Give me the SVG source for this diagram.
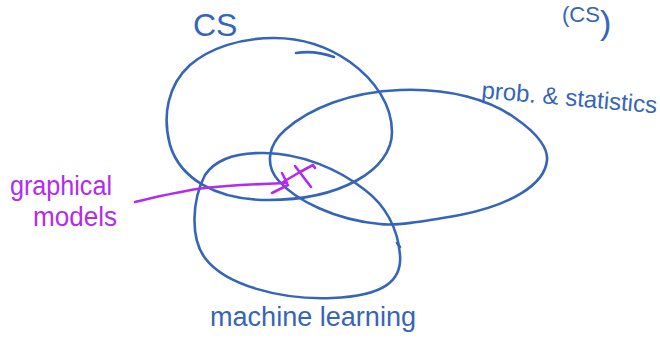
<svg xmlns="http://www.w3.org/2000/svg" width="660" height="352" viewBox="0 0 660 352">
<style>
.b{fill:none;stroke:#3565b9;stroke-width:2.6;stroke-linecap:round;stroke-linejoin:round}
.p{fill:none;stroke:#b22cf0;stroke-width:2.6;stroke-linecap:round;stroke-linejoin:round}
.tb{fill:#3565b9;font-family:"Liberation Sans",Arial,sans-serif}
.tp{fill:#b22cf0;font-family:"Liberation Sans",Arial,sans-serif}
</style>
<rect width="660" height="352" fill="#ffffff"/>
<g id="cs">
<path class="b" d="M 274,38 C 305,38 330,48 350,62 C 375,80 392,105 392,132 C 392,170 340,200 268,200 C 215,200 180,178 170,145 C 162,115 168,85 190,65 C 210,48 240,38 274,38 Z"/>
<path class="b" d="M 296,53 C 308,51 320,52 334,57"/>
<text class="tb" x="193" y="36" font-size="32">CS</text>
</g>
<g id="cs-corner">
<text class="tb" x="562" y="22" font-size="22">(CS<tspan font-size="34" dy="12">)</tspan></text>
</g>
<g id="prob-stats">
<path class="b" d="M 400,90 C 450,88 490,100 515,118 C 540,135 548,150 547,160 C 545,185 510,205 460,215 C 420,222 395,226 380,224 C 335,220 295,200 278,180 C 265,165 268,145 285,130 C 310,108 350,92 400,90 Z"/>
<text class="tb" x="481" y="98" font-size="24" textLength="176" lengthAdjust="spacingAndGlyphs" transform="rotate(5 481 98)">prob. &amp; statistics</text>
</g>
<g id="ml">
<path class="b" d="M 261,153 C 300,152 340,170 365,190 C 385,205 398,228 400,255 C 402,280 385,296 332,298 C 280,300 225,285 205,258 C 190,238 192,200 205,175 C 215,160 235,153 261,153 Z"/>
<path class="b" d="M 397,243 L 400,247"/>
<text class="tb" x="210" y="326" font-size="27" textLength="206" lengthAdjust="spacingAndGlyphs">machine learning</text>
</g>
<g id="graphical-models">
<text class="tp" x="10" y="195" font-size="27" textLength="102" lengthAdjust="spacingAndGlyphs">graphical</text>
<text class="tp" x="33" y="226" font-size="27" textLength="84" lengthAdjust="spacingAndGlyphs">models</text>
<path class="p" d="M 283,182 L 300,172 L 313,165 L 315,168"/>
<path class="p" d="M 295,166 L 311,187"/>
</g>
<g id="connectors">
<path class="p" d="M 135,202 C 160,196 180,191 205,188 C 232,185 260,184 287,183"/>
<path class="p" d="M 272,193 L 288,185 M 282,173 L 287,183"/>
</g>
</svg>
